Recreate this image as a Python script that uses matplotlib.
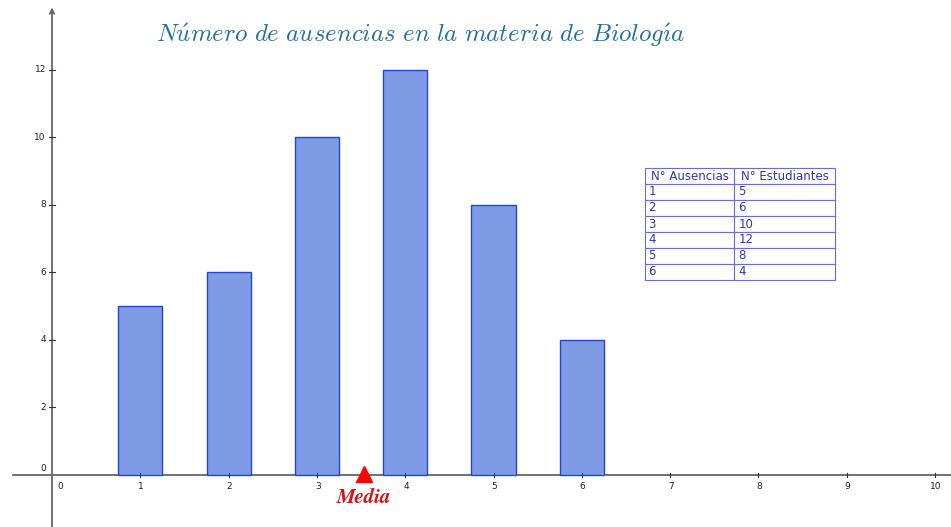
import matplotlib
matplotlib.use("Agg")
import matplotlib.pyplot as plt

ausencias = [1, 2, 3, 4, 5, 6]
estudiantes = [5, 6, 10, 12, 8, 4]
titulo = r"$\mathit{N\acute{u}mero\ de\ ausencias\ en\ la\ materia\ de\ Biolog\acute{\imath}a}$"
col_labels = ["N° Ausencias", "N° Estudiantes"]

plt.rcParams["mathtext.fontset"] = "cm"

# media ponderada
media = sum(a * e for a, e in zip(ausencias, estudiantes)) / sum(estudiantes)

fig = plt.figure(figsize=(9.51, 5.27), dpi=100)
ax = fig.add_axes([0, 0, 1, 1])
ax.set_xlim(-0.589, 10.181)
ax.set_ylim(-1.541, 14.07)
for s in ax.spines.values():
    s.set_visible(False)

axis_col = "#666666"
ax.plot([-0.44, 10.181], [0, 0], color=axis_col, lw=1.3, zorder=1, clip_on=False)
ax.annotate("", xy=(0, 13.85), xytext=(0, -1.541),
            arrowprops=dict(arrowstyle="->", color=axis_col, lw=1.3, shrinkA=0, shrinkB=0,
                            mutation_scale=8))

ax.bar(ausencias, estudiantes, width=0.5, color="#7f9be6", edgecolor="#1f45dd",
       linewidth=1.0, zorder=2)

# ticks
ax.set_xticks([])
ax.set_yticks([])
for x in range(1, 11):
    ax.plot([x, x], [-0.06, 0.06], color="#333333", lw=0.8, zorder=3)
    ax.text(x + 0.01, -0.22, str(x), ha="center", va="top", fontsize=6.5, color="#222222")
ax.text(0.09, -0.22, "0", ha="center", va="top", fontsize=6.5, color="#222222")
for y in range(2, 13, 2):
    ax.plot([-0.03, 0.03], [y, y], color="#333333", lw=0.8, zorder=3)
    ax.text(-0.07, y, str(y), ha="right", va="center", fontsize=6.5, color="#222222")
ax.text(-0.07, 0.2, "0", ha="right", va="center", fontsize=6.5, color="#222222")

# titulo
ax.text(4.17, 13.02, titulo, ha="center", va="center", fontsize=17.9, color="#1f6fa3")

# media
ax.plot([media], [0.03], marker="^", color="red", markersize=11, zorder=4, clip_on=False)
ax.text(media, -0.66, "Media", ha="center", va="center", fontsize=15, color="#dd1111",
        family="STIXGeneral", style="italic", weight="bold")

# tabla
cell_text = [[str(a), str(e)] for a, e in zip(ausencias, estudiantes)]
tab = ax.table(cellText=cell_text, colLabels=col_labels, cellLoc="left",
               bbox=[(645) / 951, 1 - 280 / 527, (835 - 645) / 951, (280 - 168) / 527])
tab.auto_set_font_size(False)
tab.set_fontsize(8.5)
for (r, c), cell in tab.get_celld().items():
    cell.set_edgecolor("#6a6ae0")
    cell.set_linewidth(0.8)
    cell.get_text().set_color("#3333bb")
    cell.PAD = 0.04
    cell.set_width(0.47 if c == 0 else 0.53)

fig.savefig("out.png", dpi=100)
